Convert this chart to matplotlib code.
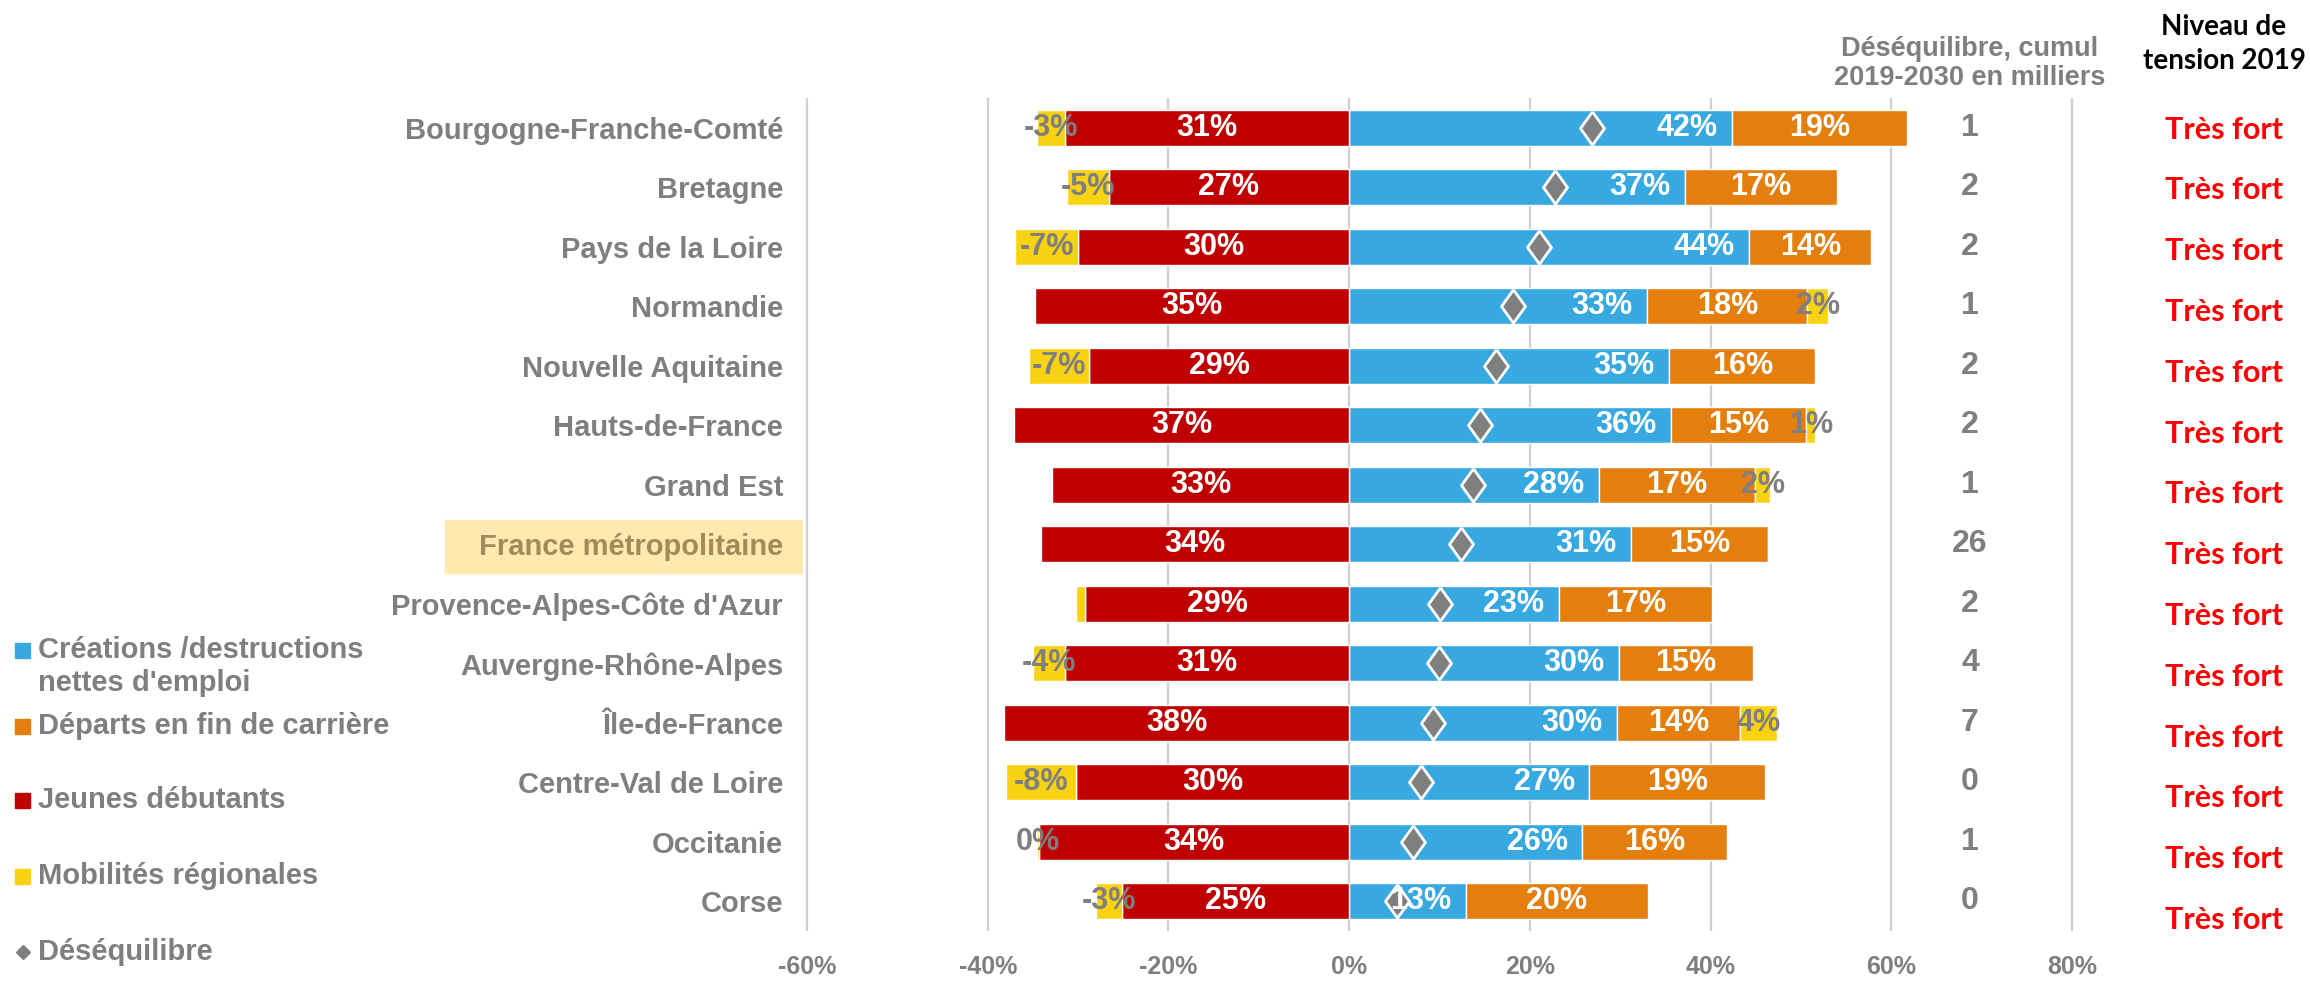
import matplotlib
matplotlib.use("Agg")
import matplotlib.pyplot as plt
from matplotlib.patches import Rectangle
from matplotlib.lines import Line2D
import numpy as np

plt.rcParams['font.family'] = ['Liberation Sans', 'DejaVu Sans']

# data (in %)
regions = ["Bourgogne-Franche-Comté", "Bretagne", "Pays de la Loire", "Normandie",
           "Nouvelle Aquitaine", "Hauts-de-France", "Grand Est", "France métropolitaine",
           "Provence-Alpes-Côte d'Azur", "Auvergne-Rhône-Alpes", "Île-de-France",
           "Centre-Val de Loire", "Occitanie", "Corse"]
creations = [42.4, 37.2, 44.3, 33.0, 35.4, 35.6, 27.6, 31.2, 23.2, 29.9, 29.6, 26.6, 25.8, 12.9]
departs = [19.3, 16.8, 13.5, 17.7, 16.2, 15.0, 17.3, 15.2, 17.0, 14.8, 13.7, 19.4, 16.0, 20.2]
jeunes = [31.4, 26.6, 30.0, 34.8, 28.8, 37.1, 32.9, 34.1, 29.2, 31.4, 38.2, 30.2, 34.3, 25.1]
mobilites = [-3.2, -4.6, -7.0, 2.3, -6.6, 1.0, 1.7, 0.0, -1.0, -3.6, 4.0, -7.8, -0.3, -2.9]
mob_shown = [True, True, True, True, True, True, True, False, False, True, True, True, True, True]
desequilibre = [26.9, 22.8, 21.0, 18.1, 16.2, 14.5, 13.7, 12.4, 10.0, 9.9, 9.3, 8.0, 7.1, 5.3]
cumul = ["1", "2", "2", "1", "2", "2", "1", "26", "2", "4", "7", "0", "1", "0"]
tension = ["Très fort"] * 14
xticks = [-60, -40, -20, 0, 20, 40, 60, 80]

BLUE = "#38A8E0"
ORANGE = "#E47E0C"
RED = "#C00000"
YELLOW = "#F9D212"
GREY = "#7F7F7F"

W, H = 2310, 981
fig = plt.figure(figsize=(W / 100, H / 100), dpi=100)
ax = fig.add_axes([802.5 / W, 50 / H, 1274 / W, 833 / H])

y = np.arange(len(regions))
c = np.array(creations)
d = np.array(departs)
j = np.array(jeunes)
m = np.array(mobilites)

bh = 0.6
kw = dict(height=bh, edgecolor="white", linewidth=1, zorder=3)
ax.barh(y, c, color=BLUE, **kw)
ax.barh(y, d, left=c, color=ORANGE, **kw)
ax.barh(y, -j, color=RED, **kw)
mleft = np.where(m >= 0, c + d, -j)
ax.barh(y, m, left=mleft, color=YELLOW, **kw)

lab = dict(ha="center", va="center", fontsize=22, fontweight="bold", zorder=8)
for i in range(len(y)):
    # blue labels sit at the inside end of the segment
    ax.text(c[i] - 5, y[i], f"{round(c[i])}%", color="white", **lab)
    ax.text(c[i] + d[i] / 2, y[i], f"{round(d[i])}%", color="white", **lab)
    ax.text(-j[i] / 2, y[i], f"{round(j[i])}%", color="white", **lab)
    if mob_shown[i]:
        v = int(round(m[i]))
        ax.text(mleft[i] + m[i] / 2, y[i], f"{v}%", color=GREY, **lab)

verts = [(0, 1), (0.72, 0), (0, -1), (-0.72, 0), (0, 1)]
ax.plot(desequilibre, y, ls="none", marker=verts, ms=24, mfc=GREY, mec="white",
        mew=2, zorder=7)

for i in range(len(y)):
    ax.text(68.7, y[i], cumul[i], ha="center", va="center", fontsize=23,
            fontweight="bold", color=GREY)
    ax.text(96.8, y[i] * 1.022 + 0.03, tension[i], ha="center", va="center",
            fontsize=22, fontweight="bold", color="#FF0000",
            family=["Lato", "DejaVu Sans"], clip_on=False)

ax.set_xlim(-60.5, 80.5)
ax.set_ylim(len(regions) - 0.5, -0.5)
ax.set_xticks(xticks)
ax.set_xticklabels([f"{t}%" for t in xticks])
ax.set_yticks(y)
ax.set_yticklabels(regions)
ax.tick_params(axis="x", length=0, pad=17, labelsize=18, labelcolor=GREY)
ax.tick_params(axis="y", length=0, pad=14, labelsize=21, labelcolor=GREY)
for t in ax.get_xticklabels() + ax.get_yticklabels():
    t.set_fontweight("bold")
ax.get_yticklabels()[7].set_color("#A08C5A")
ax.grid(axis="x", color="#CFCFCF", linewidth=1.6)
ax.set_axisbelow(True)
for s in ax.spines.values():
    s.set_visible(False)

# highlight behind France métropolitaine
fig.patches.append(Rectangle((445 / W, 1 - 573 / H), 359 / W, 53 / H,
                             transform=fig.transFigure, color="#FFE9AF", zorder=-5))

# column headers
fig.text(1970 / W, 1 - 63 / H, "Déséquilibre, cumul\n2019-2030 en milliers", ha="center",
         va="center", fontsize=19.5, fontweight="bold", color=GREY, linespacing=1.15)
fig.text(2224 / W, 1 - 44 / H, "Niveau de\ntension 2019", ha="center", va="center",
         fontsize=20, fontweight="bold", color="black", linespacing=1.35,
         family=["Lato", "DejaVu Sans"])

# legend
leg_items = [(BLUE, "Créations /destructions", 650), (None, "nettes d'emploi", 683),
             (ORANGE, "Départs en fin de carrière", 726), (RED, "Jeunes débutants", 800),
             (YELLOW, "Mobilités régionales", 876)]
for col, txt, yy in leg_items:
    if col:
        fig.patches.append(Rectangle((15 / W, 1 - (yy + 8) / H), 15 / W, 15 / H,
                                     transform=fig.transFigure, color=col))
    fig.text(38 / W, 1 - yy / H, txt, ha="left", va="center", fontsize=21,
             fontweight="bold", color=GREY)
fig.add_artist(Line2D([23 / W], [1 - 952 / H], marker="D", ms=7, color=GREY,
                      transform=fig.transFigure))
fig.text(38 / W, 1 - 952 / H, "Déséquilibre", ha="left", va="center", fontsize=21,
         fontweight="bold", color=GREY)

fig.savefig("out.png", dpi=100)
